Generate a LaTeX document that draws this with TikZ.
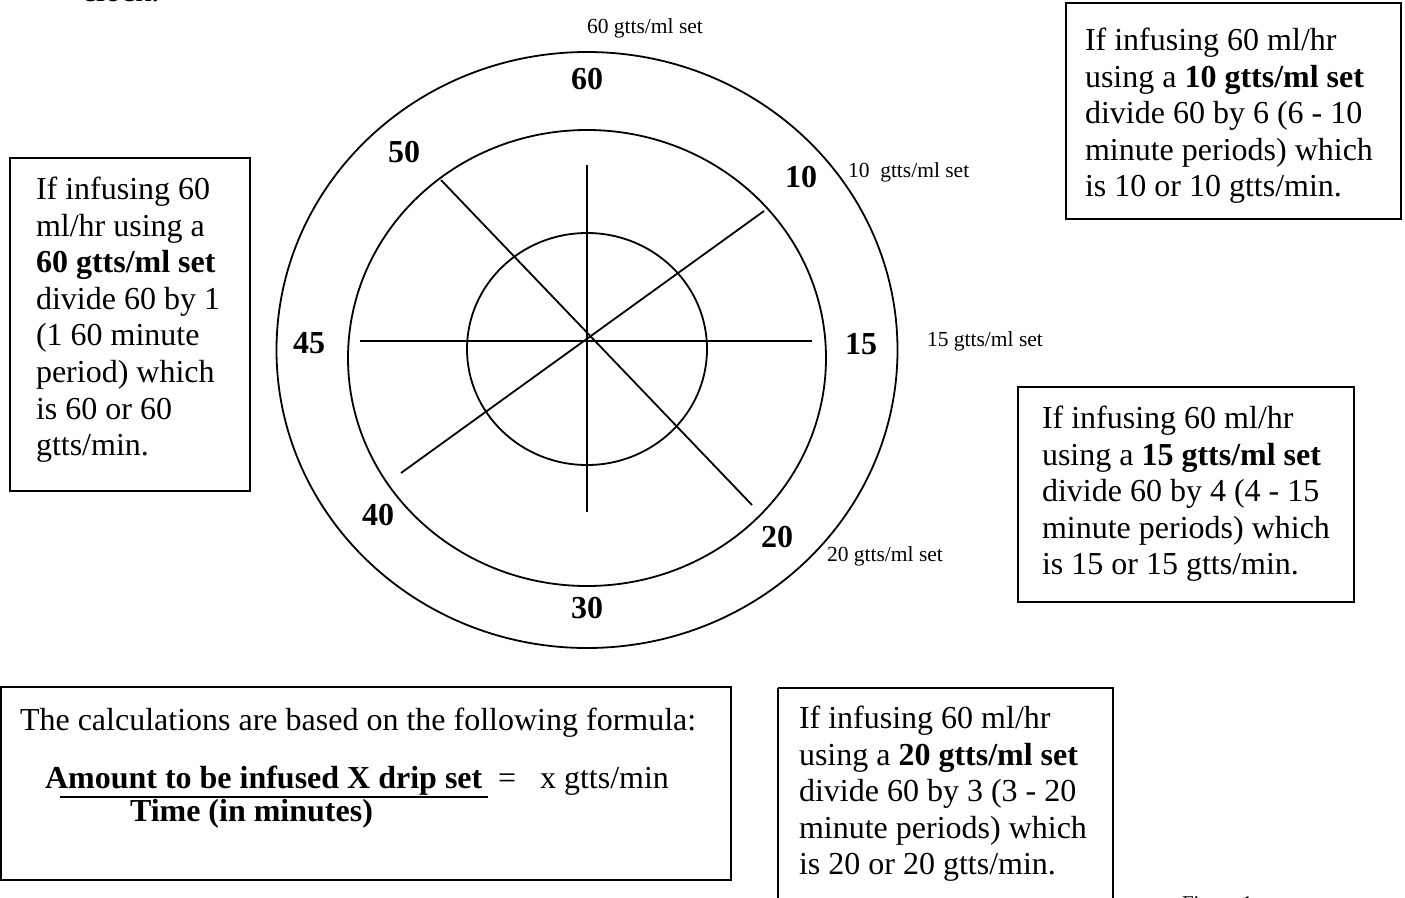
\documentclass[tikz,border=0pt]{standalone}
\usepackage{fontspec}
\setmainfont{Liberation Serif}
\begin{document}
\begin{tikzpicture}[x=1pt,y=-1pt,
  every node/.style={inner sep=0pt, outer sep=0pt},
  frame/.style={draw, line width=1.8pt, rectangle},
  body/.style={font=\fontsize{32}{36.6}\selectfont, align=left, anchor=north west},
  plain/.style={font=\fontsize{32}{36}\selectfont, anchor=base west},
  clocknum/.style={font=\fontsize{32}{36}\selectfont\bfseries, anchor=center},
  setlabel/.style={font=\fontsize{21.5}{24}\selectfont, anchor=base west},
  ring/.style={draw, line width=1.8pt},
  spoke/.style={draw, line width=1.8pt}]
\useasboundingbox (0,0) rectangle (1405,897);
\clip (0,0) rectangle (1405,897);
\fill[white] (0,0) rectangle (1405,897);

% cut-off texts at page edges
\node[plain] (clocktxt) at (82,1) {clock.};
\node[font=\fontsize{21}{24}\selectfont, anchor=base west] (figtxt) at (1182,910) {Figure 1};

% clock rings
\draw[ring] (587,350) ellipse [x radius=310.5, y radius=298];
\draw[ring] (587,358) ellipse [x radius=239, y radius=228];
\draw[ring] (587,349) ellipse [x radius=120, y radius=116];

% spokes
\coordinate (c) at (587,341);
\coordinate (n) at (587,165);
\coordinate (s) at (587,512);
\coordinate (w) at (360,341);
\coordinate (e) at (812,341);
\coordinate (nw) at (441,180);
\coordinate (se) at (752,505);
\coordinate (sw) at (401,473);
\coordinate (ne) at (764,211);
\draw[spoke] (n) -- (s);
\draw[spoke] (w) -- (e);
\draw[spoke] (nw) -- (se);
\draw[spoke] (sw) -- (ne);

% clock numbers
\node[clocknum] (n60) at (587,79) {60};
\node[clocknum] (n50) at (404,152) {50};
\node[clocknum] (n10) at (801,177) {10};
\node[clocknum] (n45) at (309,343) {45};
\node[clocknum] (n15) at (861,344) {15};
\node[clocknum] (n40) at (378,515) {40};
\node[clocknum] (n20) at (777,537) {20};
\node[clocknum] (n30) at (587,608) {30};

% set labels
\node[setlabel] (l60) at (587,33) {60 gtts/ml set};
\node[setlabel] (l10) at (848,177) {10\ \ gtts/ml set};
\node[setlabel] (l15) at (927,346) {15 gtts/ml set};
\node[setlabel] (l20) at (827,561) {20 gtts/ml set};

% boxes
\draw[frame] (10,158) rectangle (250,491);
\node[body] (t60) at (36,177) {If infusing 60\\ml/hr using a\\\textbf{60 gtts/ml set}\\divide 60 by 1\\(1 60 minute\\period) which\\is 60 or 60\\gtts/min.};

\draw[frame] (1066,3) rectangle (1401,219);
\node[body] (t10) at (1085,28) {If infusing 60 ml/hr\\using a \textbf{10 gtts/ml set}\\divide 60 by 6 (6 - 10\\minute periods) which\\is 10 or 10 gtts/min.};

\draw[frame] (1018,387) rectangle (1354,602);
\node[body] (t15) at (1042,406) {If infusing 60 ml/hr\\using a \textbf{15 gtts/ml set}\\divide 60 by 4 (4 - 15\\minute periods) which\\is 15 or 15 gtts/min.};

\draw[frame] (778,688) -- (778,905) (778,688) -- (1113,688) -- (1113,905);
\node[body] (t20) at (799,706) {If infusing 60 ml/hr\\using a \textbf{20 gtts/ml set}\\divide 60 by 3 (3 - 20\\minute periods) which\\is 20 or 20 gtts/min.};

% formula box
\draw[frame] (1,687) rectangle (731,880);
\node[plain] (calc) at (20,730) {The calculations are based on the following formula:};
\node[plain, font=\fontsize{32}{36}\selectfont\bfseries] (num) at (45,788) {Amount to be infused X drip set};
\coordinate (ulA) at (60,797);
\coordinate (ulB) at (488,797);
\draw[line width=1.8pt] (ulA) -- (ulB);
\node[plain] (eq) at (498,788) {=\ \ \ x gtts/min};
\node[plain, font=\fontsize{32}{36}\selectfont\bfseries] (den) at (130,821) {Time (in minutes)};
\end{tikzpicture}
\end{document}
